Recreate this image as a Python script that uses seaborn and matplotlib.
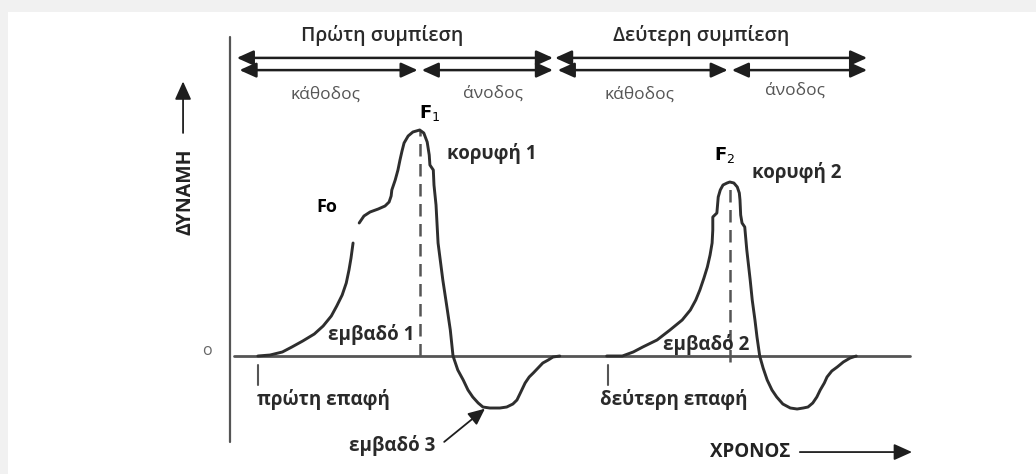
import matplotlib
matplotlib.use("Agg")
import matplotlib.pyplot as plt
from matplotlib.patches import Rectangle
import numpy as np
import pandas as pd
import seaborn as sns

# ---- force-time trace of a two-bite texture profile test ----
# first compression, rising part up to the Fo shoulder
t_rise1 = [0.41, 0.59, 0.77, 0.91, 1.07, 1.24, 1.37, 1.49, 1.57, 1.65, 1.71, 1.75, 1.78, 1.81]
f_rise1 = [0.0, 0.44, 1.77, 3.98, 6.64, 9.73, 13.27, 17.70, 22.12, 26.99, 32.30, 38.05, 43.36, 50.0]

# first compression, from the shoulder over peak F1 and through the negative area
t_cycle1 = [1.90, 1.97, 2.06, 2.18, 2.28, 2.34, 2.37, 2.38, 2.43, 2.47, 2.50, 2.53, 2.56, 2.62,
            2.69, 2.79, 2.85, 2.90, 2.93, 2.94, 2.99, 3.00, 3.03, 3.06, 3.13, 3.19, 3.24, 3.28,
            3.35, 3.43, 3.50, 3.57, 3.65, 3.72, 3.82, 3.97, 4.07, 4.16, 4.22, 4.27, 4.34, 4.40,
            4.46, 4.53, 4.60, 4.68, 4.75, 4.85]
f_cycle1 = [58.85, 61.95, 63.72, 65.04, 66.37, 68.14, 70.80, 73.45, 77.88, 82.30, 86.73, 90.71,
            94.25, 97.35, 99.12, 100.0, 98.67, 94.69, 88.94, 84.51, 82.30, 75.66, 66.81, 50.0,
            33.63, 21.68, 11.50, 0.0, -6.19, -10.62, -15.04, -18.14, -20.80, -22.57, -23.01,
            -23.01, -22.57, -21.24, -19.47, -16.37, -11.95, -9.29, -7.52, -5.31, -3.10, -1.77,
            -0.44, 0.0]

# second compression
t_cycle2 = [5.54, 5.77, 5.93, 6.07, 6.28, 6.47, 6.65, 6.77, 6.85, 6.91, 6.97, 7.02, 7.06, 7.09,
            7.10, 7.10, 7.16, 7.18, 7.21, 7.25, 7.31, 7.35, 7.41, 7.46, 7.49, 7.50, 7.51, 7.53,
            7.57, 7.60, 7.65, 7.68, 7.72, 7.75, 7.79, 7.84, 7.90, 7.97, 8.04, 8.13, 8.24, 8.34,
            8.43, 8.50, 8.57, 8.63, 8.68, 8.74, 8.78, 8.85, 8.93, 9.02, 9.12, 9.21]
f_cycle2 = [0.0, 0.0, 1.77, 3.98, 7.08, 11.50, 15.93, 20.35, 24.78, 29.20, 34.51, 39.38, 44.69,
            50.0, 55.75, 61.50, 63.27, 70.35, 73.45, 75.66, 76.55, 76.99, 76.55, 74.78, 72.12,
            69.03, 62.39, 58.85, 57.08, 46.90, 33.63, 24.78, 15.93, 8.41, 0.0, -5.31, -10.62,
            -15.04, -18.14, -21.24, -23.01, -23.45, -23.01, -22.57, -20.80, -18.14, -15.04,
            -11.95, -9.29, -6.64, -4.87, -2.65, -0.88, 0.0]

# characteristic points
peak_t = [2.79, 7.35]
peak_f = [100.0, 76.99]
contact_t = [0.41, 5.56]
# compression phases: start, turn-around (peak), end
phase_start = [0.12, 4.80]
phase_end = [4.75, 9.37]

compression_labels = ["Πρώτη συμπίεση", "Δεύτερη συμπίεση"]
peak_labels = ["κορυφή 1", "κορυφή 2"]
area_labels = ["εμβαδό 1", "εμβαδό 2", "εμβαδό 3"]
contact_labels = ["πρώτη επαφή", "δεύτερη επαφή"]
x_title = "ΧΡΟΝΟΣ"
y_title = "ΔΥΝΑΜΗ"

# ---- styling ----
sns.set_theme(style="white")
plt.rcParams["font.family"] = ["Open Sans", "DejaVu Sans"]

W, H, DPI = 1036, 474, 100
fig = plt.figure(figsize=(W / DPI, H / DPI), dpi=DPI, facecolor="#f1f1f1")

ax = fig.add_axes([0, 0, 1, 1])
ax.set_facecolor("none")
ax.set_xlim(-3.382, 11.853)
ax.set_ylim(-52.21, 157.52)
ax.axis("off")
# white card on the grey page
ax.add_patch(Rectangle((8 / W, 0), 1 - 8 / W, 1 - 12 / H, transform=fig.transFigure,
                       facecolor="white", edgecolor="none", zorder=0))

curve_col = "#2e2e2e"
axis_col = "#555555"
label_col = "#2a2a2a"

frames = [
    pd.DataFrame({"t": t_rise1, "F": f_rise1, "trace": "c1a"}),
    pd.DataFrame({"t": t_cycle1, "F": f_cycle1, "trace": "c1b"}),
    pd.DataFrame({"t": t_cycle2, "F": f_cycle2, "trace": "c2"}),
]
df = pd.concat(frames, ignore_index=True)
sns.lineplot(data=df, x="t", y="F", units="trace", estimator=None, sort=False,
             color=curve_col, lw=2.1, ax=ax, zorder=3)

# axes of the diagram
ax.plot([0.06, 10.0], [0, 0], color=axis_col, lw=2.0, zorder=2)
ax.plot([0, 0], [-38, 141], color=axis_col, lw=1.6, zorder=2)
ax.text(-0.34, 2.2, "o", ha="center", va="center", fontsize=11.5, color="#666666")

# dashed verticals at the peaks
ax.plot([peak_t[0], peak_t[0]], [0, peak_f[0]], color="#555555", lw=1.8, ls=(0, (5, 3)), zorder=2)
ax.plot([peak_t[1], peak_t[1]], [-2.6, peak_f[1]], color="#555555", lw=1.8, ls=(0, (5, 3)), zorder=2)

# contact ticks
for ct, lab in zip(contact_t, contact_labels):
    ax.plot([ct, ct], [-3.8, -13.0], color=axis_col, lw=1.5)
    ax.text(ct + 0.96, -19.3, lab, ha="center", va="center", fontsize=13.5,
            fontweight="bold", color=label_col)

# phase arrows
arrow_kw = dict(arrowstyle="<|-|>,head_length=1.0,head_width=0.45", color="#1e1e1e",
                lw=1.8, mutation_scale=10, shrinkA=0, shrinkB=0)
row_top, row_low = 131.9, 126.5
for i in range(2):
    ax.annotate("", xy=(phase_end[i], row_top), xytext=(phase_start[i] - 0.02, row_top),
                arrowprops=arrow_kw)
    ax.annotate("", xy=(peak_t[i] - 0.03, row_low), xytext=(phase_start[i] + 0.02, row_low),
                arrowprops=arrow_kw)
    ax.annotate("", xy=(phase_end[i], row_low), xytext=(peak_t[i] + 0.03, row_low),
                arrowprops=arrow_kw)
    mid = (phase_start[i] + phase_end[i]) / 2
    ax.text(mid - 0.2 + 0.05 * i, 142.0, compression_labels[i], ha="center", va="center",
            fontsize=14, fontweight="semibold", color=label_col)
    ax.text((phase_start[i] + peak_t[i]) / 2 - 0.05, 115.5, "κάθοδος", ha="center", va="center",
            fontsize=12.5, color="#555555")
    ax.text((peak_t[i] + phase_end[i]) / 2 + 0.1 - 0.15 * i, 116.0 + 1.5 * i, "άνοδος",
            ha="center", va="center", fontsize=12.5, color="#555555")

# peak labels
ax.text(peak_t[0] + 0.15, 107.5, "F$_1$", ha="center", va="center", fontsize=13,
        fontweight="bold", color="black", family="DejaVu Sans")
ax.text(peak_t[1] - 0.07, 88.9, "F$_2$", ha="center", va="center", fontsize=13,
        fontweight="bold", color="black", family="DejaVu Sans")
ax.text(1.43, 65.9, "Fo", ha="center", va="center", fontsize=13, fontweight="bold", color="black")
ax.text(peak_t[0] + 1.06, 89.4, peak_labels[0], ha="center", va="center", fontsize=13.5,
        fontweight="bold", color=label_col)
ax.text(peak_t[1] + 0.99, 81.4, peak_labels[1], ha="center", va="center", fontsize=13.5,
        fontweight="bold", color=label_col)

# area labels
ax.text(2.07, 9.7, area_labels[0], ha="center", va="center", fontsize=13.5,
        fontweight="bold", color=label_col)
ax.text(7.01, 5.2, area_labels[1], ha="center", va="center", fontsize=13.5,
        fontweight="bold", color=label_col)
ax.text(2.38, -39.8, area_labels[2], ha="center", va="center", fontsize=13.5,
        fontweight="bold", color=label_col)
ax.annotate("", xy=(3.75, -23.3), xytext=(3.15, -38.0),
            arrowprops=dict(arrowstyle="-|>,head_length=1.0,head_width=0.45", color="#1e1e1e",
                            lw=1.3, mutation_scale=10, shrinkA=0, shrinkB=0))

# axis titles with arrows
ax.text(7.65, -42.5, x_title, ha="center", va="center", fontsize=13.5, fontweight="bold",
        color="#222222")
ax.annotate("", xy=(10.03, -42.5), xytext=(8.38, -42.5),
            arrowprops=dict(arrowstyle="-|>,head_length=1.0,head_width=0.45", color="#1e1e1e",
                            lw=1.3, mutation_scale=11, shrinkA=0, shrinkB=0))
ax.text(-0.65, 72.6, y_title, ha="center", va="center", rotation=90, fontsize=14,
        fontweight="bold", color="#222222")
ax.annotate("", xy=(-0.69, 121.5), xytext=(-0.69, 98.7),
            arrowprops=dict(arrowstyle="-|>,head_length=1.0,head_width=0.45", color="#1e1e1e",
                            lw=1.3, mutation_scale=11, shrinkA=0, shrinkB=0))

fig.savefig("out.png", dpi=DPI, facecolor=fig.get_facecolor())
